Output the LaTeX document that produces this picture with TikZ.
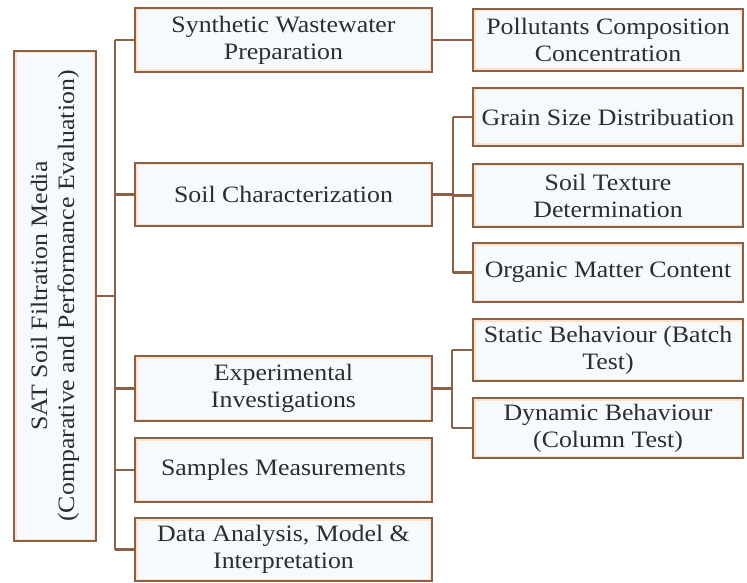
\documentclass[tikz,border=0pt]{standalone}
\usepackage{fontspec}
\newfontfamily\serf{Liberation Serif}[FakeStretch=1.1]
\definecolor{bbrown}{RGB}{140,96,70}
\definecolor{inorange}{RGB}{252,226,200}
\definecolor{infill}{RGB}{246,250,255}
\definecolor{txt}{RGB}{45,45,45}
\tikzset{
  bx/.style={draw=bbrown, line width=2.2pt, fill=infill, inner sep=2pt, align=center,
    text=txt, font=\serf\fontsize{23.5}{27}\selectfont,
    path picture={\draw[inorange, line width=5pt]
      (path picture bounding box.south west) rectangle (path picture bounding box.north east);}},
  lbox/.style={bx, minimum width=297pt},
  rbox/.style={bx, minimum width=270pt},
  conn/.style={draw=bbrown, line width=2.2pt}
}
\begin{document}
\begin{tikzpicture}[x=1pt,y=-1pt]
\useasboundingbox (0,0) rectangle (747,583);
\node[lbox, minimum height=64pt] (syn) at (283.5,40) {Synthetic Wastewater\\Preparation};
\node[rbox, minimum height=62pt] (pol) at (608,40) {Pollutants Composition\\Concentration};
\node[lbox, minimum height=63pt] (soil) at (283.5,194.5) {Soil Characterization};
\node[rbox, minimum height=58pt] (grain) at (608,117) {Grain Size Distribuation};
\node[rbox, minimum height=63pt] (tex) at (608,195.5) {Soil Texture\\Determination};
\node[rbox, minimum height=59pt] (org) at (608,272.5) {Organic Matter Content};
\node[lbox, minimum height=65pt] (exp) at (283.5,388.5) {Experimental\\Investigations};
\node[rbox, minimum height=62pt] (stat) at (608,350) {Static Behaviour (Batch\\Test)};
\node[rbox, minimum height=60pt] (dyn) at (608,428) {Dynamic Behaviour\\(Column Test)};
\node[lbox, minimum height=64pt] (samp) at (283.5,470) {Samples Measurements};
\node[lbox, minimum height=63pt] (data) at (283.5,549.5) {Data Analysis, Model \&\\Interpretation};
\node[bx, minimum width=490pt, minimum height=82pt, rotate=90] (root) at (55,296)
  {SAT Soil Filtration Media\\(Comparative and Performance Evaluation)};
\coordinate (tk) at (115,0);
\coordinate (sk) at (453,0);
\coordinate (ek) at (452,0);
\draw[conn] (root.south) -- (root.south -| tk);
\draw[conn] (syn.west -| tk) -- (data.west -| tk);
\foreach \n in {syn,soil,exp,samp,data} \draw[conn] (\n.west) -- (\n.west -| tk);
\draw[conn] (syn.east) -- (pol.west);
\draw[conn] (soil.east) -- (soil.east -| sk);
\draw[conn] (grain.west -| sk) -- (org.west -| sk);
\foreach \n in {grain,tex,org} \draw[conn] (\n.west) -- (\n.west -| sk);
\draw[conn] (exp.east) -- (exp.east -| ek);
\draw[conn] (stat.west -| ek) -- (dyn.west -| ek);
\foreach \n in {stat,dyn} \draw[conn] (\n.west) -- (\n.west -| ek);
\end{tikzpicture}
\end{document}
